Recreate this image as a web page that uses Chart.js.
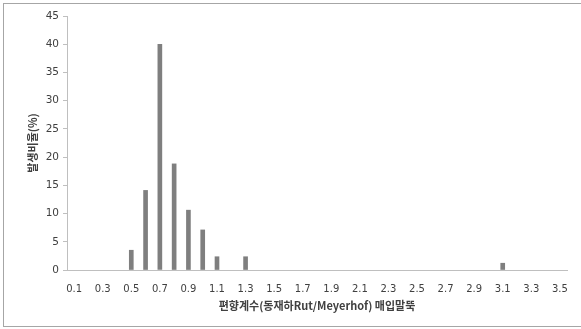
<!DOCTYPE html>
<html>
<head>
<meta charset="utf-8">
<script src="https://cdn.jsdelivr.net/npm/chart.js@4/dist/chart.umd.min.js"></script>
<style>
  body { margin: 0; background: #fff; overflow: hidden; }
  #wrap {
    position: relative;
    width: 581px;
    height: 329px;
    overflow: hidden;
  }
  #frame {
    position: absolute;
    left: 3px;
    top: 3px;
    width: 578px;
    height: 324px;
    border: 1px solid #a6a6a6;
    border-right: none;
    box-sizing: border-box;
  }
  canvas { position: absolute; left: 0; top: 0; }
</style>
</head>
<body>
<div id="wrap">
  <div id="frame"></div>
  <canvas id="myChart" width="581" height="329"></canvas>
</div>
<script>
// x categories 0.1 .. 3.5 (step 0.1)
const categories = [
  "0.1", "0.2", "0.3", "0.4", "0.5", "0.6", "0.7", "0.8", "0.9", "1.0",
  "1.1", "1.2", "1.3", "1.4", "1.5", "1.6", "1.7", "1.8", "1.9", "2.0",
  "2.1", "2.2", "2.3", "2.4", "2.5", "2.6", "2.7", "2.8", "2.9", "3.0",
  "3.1", "3.2", "3.3", "3.4", "3.5"
];
// 발생비율(%) - null = no occurrence
const ratios = [
  null, null, null, null, 3.5, 14.1, 40, 18.8, 10.6, 7.1,
  2.35, null, 2.35, null, null, null, null, null, null, null,
  null, null, null, null, null, null, null, null, null, null,
  1.2, null, null, null, null
];
const yTicks = [0, 5, 10, 15, 20, 25, 30, 35, 40, 45];

const fontFam = "'DejaVu Sans', 'Noto Sans CJK KR', sans-serif";
const titleFam = "'Noto Sans CJK KR', 'DejaVu Sans', sans-serif";

const config = {
  type: "bar",
  data: {
    labels: categories,
    datasets: [
      {
        data: ratios,
        backgroundColor: "#7f7f7f",
        barThickness: 4,
      },
    ],
  },
  options: {
    responsive: false,
    animation: false,
    layout: {
      padding: { left: 20, right: 13, top: 16, bottom: 17 },
    },
    plugins: {
      legend: { display: false },
      tooltip: { enabled: false },
    },
    scales: {
      x: {
        grid: { display: false, drawTicks: false },
        border: { color: "#bfbfbf", width: 1 },
        ticks: {
          autoSkip: false,
          maxRotation: 0,
          color: "#404040",
          padding: 13,
          font: { family: fontFam, size: 10 },
          callback: function (val, i) {
            return i % 2 === 0 ? categories[i] : "";
          },
        },
        title: {
          display: true,
          text: "편향계수(동재하Rut/Meyerhof) 매입말뚝",
          color: "#404040",
          font: { family: titleFam, size: 11, weight: "bold" },
          padding: 0,
        },
        afterFit: function (scale) {
          scale.height = 42;
        },
      },
      y: {
        min: 0,
        max: 45,
        grid: {
          display: true,
          drawOnChartArea: false,
          drawTicks: true,
          tickLength: 4,
          color: "#bfbfbf",
        },
        border: { color: "#bfbfbf", width: 1 },
        afterBuildTicks: function (scale) {
          scale.ticks = yTicks.map((v) => ({ value: v }));
        },
        ticks: {
          color: "#404040",
          padding: 4,
          font: { family: fontFam, size: 10.5 },
        },
        title: {
          display: true,
          text: "발생비율(%)",
          color: "#404040",
          font: { family: titleFam, size: 11, weight: "bold" },
          padding: { top: 6, bottom: 0 },
        },
        afterFit: function (scale) {
          scale.width = 47;
        },
      },
    },
  },
};

const myChart = new Chart(document.getElementById("myChart"), config);
</script>
</body>
</html>
